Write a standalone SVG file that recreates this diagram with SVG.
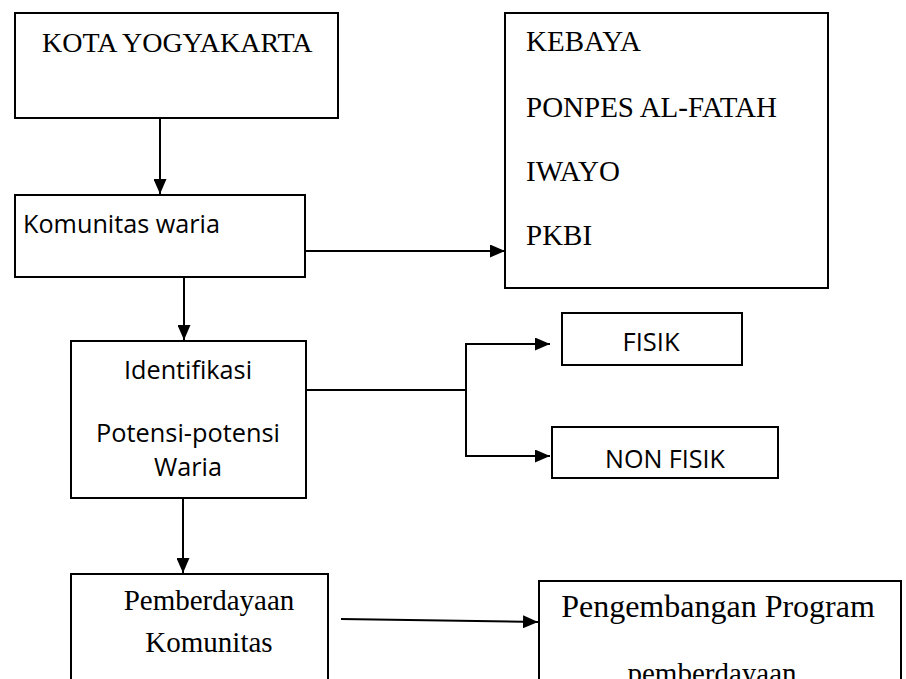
<svg xmlns="http://www.w3.org/2000/svg" width="906" height="679" viewBox="0 0 906 679">
<style>
.box{fill:#fff;stroke:#000;stroke-width:2}
.ser{font-family:"Liberation Serif","Times New Roman",serif;fill:#000}
.san{font-family:"Open Sans","Noto Sans",sans-serif;fill:#000}
.con{fill:none;stroke:#000;stroke-width:2}
</style>
<defs>
<marker id="ah" viewBox="0 0 15 13" refX="15" refY="6.5" markerWidth="15" markerHeight="13" markerUnits="userSpaceOnUse" orient="auto">
<path d="M0,0 L15,6.5 L0,13 Z" fill="#000"/>
</marker>
</defs>
<rect width="906" height="679" fill="#fff"/>
<g id="kota">
<rect class="box" x="15" y="13" width="323" height="105"/>
<text class="ser" x="42" y="52" font-size="28">KOTA YOGYAKARTA</text>
</g>
<g id="lembaga">
<rect class="box" x="505" y="13" width="323" height="275"/>
<text class="ser" font-size="29" x="526" y="51">KEBAYA</text>
<text class="ser" font-size="29" x="526" y="117">PONPES AL-FATAH</text>
<text class="ser" font-size="29" x="526" y="181">IWAYO</text>
<text class="ser" font-size="29" x="526" y="245">PKBI</text>
</g>
<g id="komunitas">
<rect class="box" x="15" y="195" width="290" height="82"/>
<text class="san" x="23" y="233" font-size="26" textLength="197" lengthAdjust="spacingAndGlyphs">Komunitas waria</text>
</g>
<g id="identifikasi">
<rect class="box" x="71" y="341" width="235" height="157"/>
<text class="san" x="188" y="379" font-size="26" text-anchor="middle" textLength="128" lengthAdjust="spacingAndGlyphs">Identifikasi</text>
<text class="san" x="188" y="442" font-size="26" text-anchor="middle" textLength="184" lengthAdjust="spacingAndGlyphs">Potensi-potensi</text>
<text class="san" x="188" y="476" font-size="26" text-anchor="middle" textLength="68" lengthAdjust="spacingAndGlyphs">Waria</text>
</g>
<g id="fisik">
<rect class="box" x="562" y="313" width="180" height="52"/>
<text class="san" x="651" y="351" font-size="25" text-anchor="middle" textLength="57" lengthAdjust="spacingAndGlyphs">FISIK</text>
</g>
<g id="nonfisik">
<rect class="box" x="552" y="427" width="226" height="51"/>
<text class="san" x="665" y="468" font-size="25" text-anchor="middle" textLength="120" lengthAdjust="spacingAndGlyphs">NON FISIK</text>
</g>
<g id="pemberdayaan">
<rect class="box" x="71" y="574" width="257" height="120"/>
<text class="ser" x="209" y="610" font-size="29" text-anchor="middle">Pemberdayaan</text>
<text class="ser" x="209" y="652" font-size="29" text-anchor="middle">Komunitas</text>
</g>
<g id="pengembangan">
<rect class="box" x="539" y="581" width="362" height="120"/>
<text class="ser" x="718" y="617" font-size="32" text-anchor="middle">Pengembangan Program</text>
<text class="ser" x="712" y="683" font-size="29" text-anchor="middle">pemberdayaan</text>
</g>
<g id="connectors">
<line class="con" x1="160" y1="118" x2="160" y2="194" marker-end="url(#ah)"/>
<line class="con" x1="305" y1="251" x2="505" y2="251" marker-end="url(#ah)"/>
<line class="con" x1="184" y1="277" x2="184" y2="340" marker-end="url(#ah)"/>
<path class="con" d="M306,390 H466 M466,344 V456"/>
<line class="con" x1="465" y1="344" x2="550" y2="344" marker-end="url(#ah)"/>
<line class="con" x1="465" y1="456" x2="550" y2="456" marker-end="url(#ah)"/>
<line class="con" x1="183" y1="498" x2="183" y2="573" marker-end="url(#ah)"/>
<line class="con" x1="341" y1="619" x2="538" y2="622" marker-end="url(#ah)"/>
</g>
</svg>
